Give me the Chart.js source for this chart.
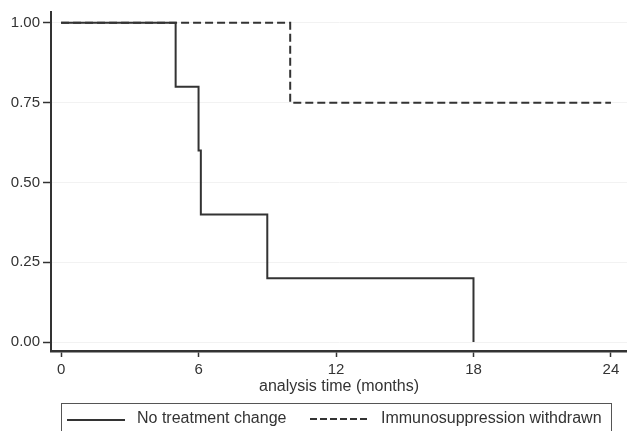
<!DOCTYPE html>
<html>
<head>
<meta charset="utf-8">
<script src="https://cdn.jsdelivr.net/npm/chart.js@4.4.0/dist/chart.umd.min.js"></script>
<style>
  body { margin: 0; background: #fff; }
  #wrap { position: relative; width: 627px; height: 431px; overflow: hidden; }
  #legend {
    position: absolute; left: 61px; top: 403px; width: 551px; height: 40px;
    border: 1.5px solid #555; box-sizing: border-box;
    font-family: "Liberation Sans", Arial, sans-serif; font-size: 16px; color: #333;
  }
  .item { position: absolute; top: 5px; white-space: nowrap; }
  .sample { position: absolute; top: 15px; width: 58px; height: 0; border-top: 2px solid #333; }
  .dashed { border-top: none; height: 2px;
    background: repeating-linear-gradient(90deg, #333 0 7px, transparent 7px 10px); }
</style>
</head>
<body>
<div id="wrap">
  <canvas id="km" width="627" height="431"></canvas>
  <div id="legend">
    <div class="sample" style="left:5px"></div>
    <div class="item" style="left:75px">No treatment change</div>
    <div class="sample dashed" style="left:248px;top:14px"></div>
    <div class="item" style="left:319px">Immunosuppression withdrawn</div>
  </div>
</div>
<script>
// Kaplan-Meier steps
let noChangeTime = [0, 5, 6, 6.1, 9, 18];
let noChangeSurv = [1, 0.8, 0.6, 0.4, 0.2, 0];
let withdrawnTime = [0, 10, 24];
let withdrawnSurv = [1, 0.75, 0.75];
let xTicks = [0, 6, 12, 18, 24];
let yTicks = [0, 0.25, 0.5, 0.75, 1];

const toPoints = (xs, ys) => xs.map((x, i) => ({ x: x, y: ys[i] }));

const ink = "#333";
const font = { family: "Liberation Sans, Arial, sans-serif", size: 15 };

const ctx = document.getElementById("km");
const myChart = new Chart(ctx, {
  type: "line",
  data: {
    datasets: [
      {
        label: "Immunosuppression withdrawn",
        data: toPoints(withdrawnTime, withdrawnSurv),
        borderColor: ink,
        borderWidth: 2,
        borderDash: [8, 4],
        stepped: true,
        pointRadius: 0,
        fill: false,
      },
      {
        label: "No treatment change",
        data: toPoints(noChangeTime, noChangeSurv),
        borderColor: ink,
        borderWidth: 2,
        stepped: true,
        pointRadius: 0,
        fill: false,
      },
    ],
  },
  options: {
    responsive: false,
    animation: false,
    layout: { padding: { left: 0, top: 10, right: 0, bottom: 35 } },
    plugins: {
      legend: { display: false },
      tooltip: { enabled: false },
    },
    scales: {
      x: {
        type: "linear",
        min: -0.44,
        max: 24.7,
        afterBuildTicks: (s) => { s.ticks = xTicks.map((v) => ({ value: v })); },
        afterFit: (s) => { s.height = 45; },
        ticks: { color: ink, font: font, padding: 4, maxRotation: 0 },
        grid: { drawOnChartArea: false, tickLength: 6, tickColor: ink, tickWidth: 1.5 },
        border: { color: ink, width: 2.5 },
        title: {
          display: true,
          text: "analysis time (months)",
          color: ink,
          font: { family: font.family, size: 16 },
          padding: { top: -6, bottom: 0 },
        },
      },
      y: {
        min: -0.028,
        max: 1.034,
        afterBuildTicks: (s) => { s.ticks = yTicks.map((v) => ({ value: v })); },
        afterFit: (s) => { s.width = 51; },
        ticks: {
          color: ink,
          font: font,
          padding: 3,
          callback: (v) => v.toFixed(2),
        },
        grid: { color: "#f2f2f2", lineWidth: 1, tickLength: 8, tickColor: ink, tickWidth: 1.5 },
        border: { color: ink, width: 2 },
      },
    },
  },
});
</script>
</body>
</html>
